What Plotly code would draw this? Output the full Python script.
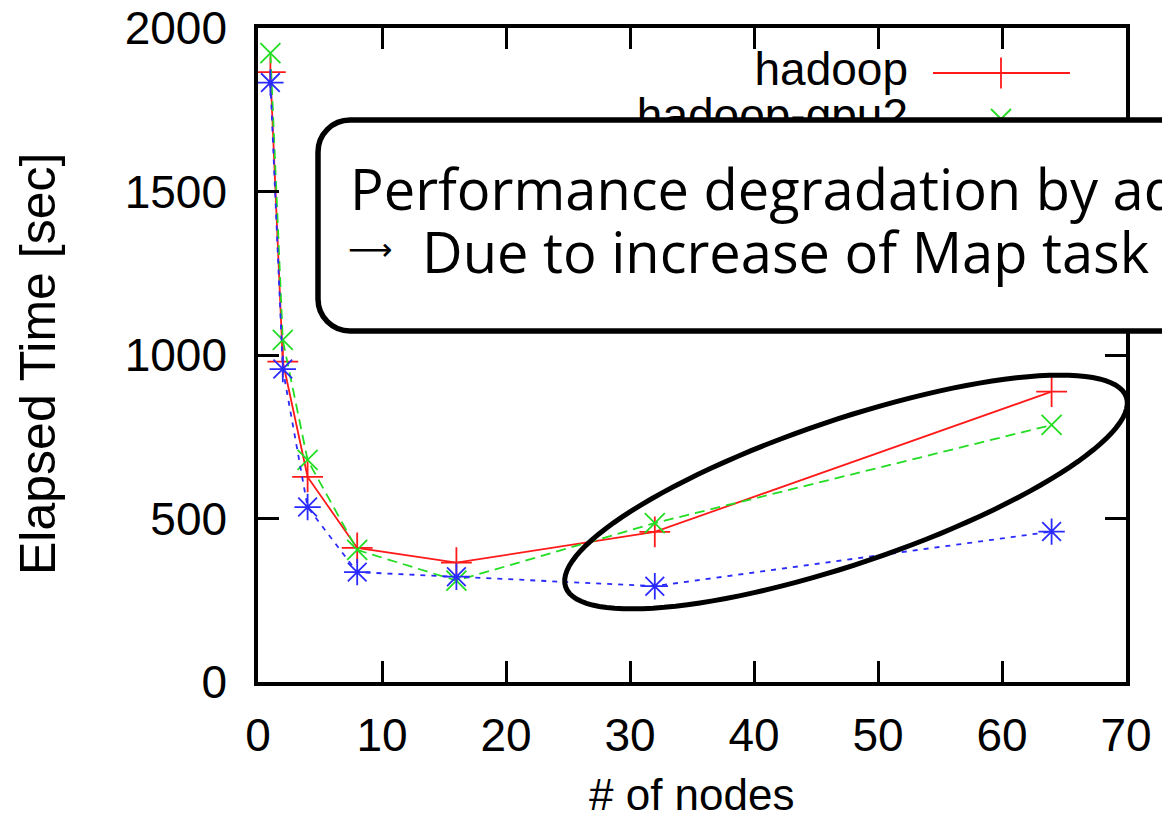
import numpy as np
import plotly.graph_objects as go

# ---------------- data ----------------
nodes = [1, 2, 4, 8, 16, 32, 64]
hadoop = [1865, 980, 627, 410, 365, 459, 888]
hadoop_gpu2 = [1923, 1046, 679, 404, 310, 486, 786]
hadoop_gpu = [1833, 957, 535, 336, 322, 293, 460]
series_names = ["hadoop", "hadoop-gpu2", "hadoop-gpu"]

x_ticks = [0, 10, 20, 30, 40, 50, 60, 70]
y_ticks = [0, 500, 1000, 1500, 2000]
x_title = "# of nodes"
y_title = "Elapsed Time [sec]"
note_line1 = "Performance degradation by ad"
note_arrow = "\u27f6"
note_line2 = "Due to increase of Map task"

# ---------------- layout geometry (pixels) ----------------
W, H = 1162, 820
L, R, T, B = 258, 1126, 28, 682  # plot area edges


def px(x):
    return (x - L) / (R - L)


def py(y):
    return (B - y) / (B - T)


RED = "#ff1a1a"
GREEN = "#22dd22"
BLUE = "#2a2aff"
GN_FONT = "Liberation Sans, Arial, sans-serif"
FS = 46

fig = go.Figure()

styles = [
    dict(color=RED, dash="solid", symbol="cross-thin", size=22),
    dict(color=GREEN, dash="10px,6px", symbol="x-thin", size=20),
    dict(color=BLUE, dash="5px,6px", symbol="asterisk", size=22),
]
for name, vals, st in zip(series_names, [hadoop, hadoop_gpu2, hadoop_gpu], styles):
    fig.add_trace(go.Scatter(
        x=nodes, y=vals, name=name, mode="lines+markers",
        line=dict(color=st["color"], width=1.8, dash=st["dash"]),
        marker=dict(symbol=st["symbol"], size=st["size"],
                    line=dict(color=st["color"], width=1.8)),
        showlegend=False,
    ))

# ---------------- hand-made key (pixel overlay axes) ----------------
legend_rows = [73, 119, 165]
key_x0, key_xm, key_x1, key_text_x = 933, 1001, 1070, 908
for name, st, ry in zip(series_names, styles, legend_rows):
    fig.add_trace(go.Scatter(
        x=[key_x0, key_x1], y=[ry, ry], mode="lines", xaxis="x2", yaxis="y2",
        line=dict(color=st["color"], width=1.8, dash=st["dash"]),
        showlegend=False, hoverinfo="skip"))
    fig.add_trace(go.Scatter(
        x=[key_xm], y=[ry], mode="markers", xaxis="x2", yaxis="y2",
        marker=dict(symbol=st["symbol"], size=st["size"],
                    line=dict(color=st["color"], width=1.8)),
        showlegend=False, hoverinfo="skip"))
    fig.add_trace(go.Scatter(
        x=[key_text_x], y=[ry], mode="text", text=[name], textposition="middle left",
        xaxis="x2", yaxis="y2", textfont=dict(family=GN_FONT, size=FS, color="black"),
        showlegend=False, hoverinfo="skip"))

# ---------------- shapes ----------------
# rounded callout box
bx0, by0, bx1, by1, rad = 318, 120, 1220, 331, 32
k = 0.5523 * rad


def P(x, y):
    return f"{px(x):.5f},{py(y):.5f}"


box_path = (
    f"M {P(bx0 + rad, by0)} L {P(bx1 - rad, by0)} "
    f"C {P(bx1 - rad + k, by0)} {P(bx1, by0 + rad - k)} {P(bx1, by0 + rad)} "
    f"L {P(bx1, by1 - rad)} "
    f"C {P(bx1, by1 - rad + k)} {P(bx1 - rad + k, by1)} {P(bx1 - rad, by1)} "
    f"L {P(bx0 + rad, by1)} "
    f"C {P(bx0 + rad - k, by1)} {P(bx0, by1 - rad + k)} {P(bx0, by1 - rad)} "
    f"L {P(bx0, by0 + rad)} "
    f"C {P(bx0, by0 + rad - k)} {P(bx0 + rad - k, by0)} {P(bx0 + rad, by0)} Z"
)
fig.add_shape(type="path", path=box_path, xref="paper", yref="paper",
              line=dict(color="black", width=5.5), fillcolor="white", layer="above")

# tilted ellipse
ecx, ecy, ea, eb, eth = 846, 492, 296, 72, np.deg2rad(18.7)
t = np.linspace(0, 2 * np.pi, 121)
ex = ecx + ea * np.cos(t) * np.cos(eth) - eb * np.sin(t) * np.sin(eth)
ey = ecy - (ea * np.cos(t) * np.sin(eth) + eb * np.sin(t) * np.cos(eth))
ell_path = "M " + " L ".join(P(a, b) for a, b in zip(ex, ey)) + " Z"
fig.add_shape(type="path", path=ell_path, xref="paper", yref="paper",
              line=dict(color="black", width=5), layer="above")

# ---------------- annotations ----------------
NOTE_FONT = dict(family="Open Sans, Noto Sans, sans-serif", size=56, color="black")
fig.add_annotation(x=px(348), y=py(188), xref="paper", yref="paper", text=note_line1,
                   showarrow=False, xanchor="left", yanchor="middle", font=NOTE_FONT)
fig.add_annotation(x=px(346), y=py(249), xref="paper", yref="paper", text=note_arrow,
                   showarrow=False, xanchor="left", yanchor="middle",
                   font=dict(family="DejaVu Sans", size=31, color="black"))
fig.add_annotation(x=px(420), y=py(251), xref="paper", yref="paper", text=note_line2,
                   showarrow=False, xanchor="left", yanchor="middle", font=NOTE_FONT)
fig.add_annotation(x=px((L + R) / 2), y=py(794), xref="paper", yref="paper", text=x_title,
                   showarrow=False, xanchor="center", yanchor="middle",
                   font=dict(family=GN_FONT, size=44, color="black"))
fig.add_annotation(x=px(38), y=py(364), xref="paper", yref="paper", text=y_title,
                   showarrow=False, xanchor="center", yanchor="middle", textangle=-90,
                   font=dict(family=GN_FONT, size=50, color="black"))

axis_common = dict(
    ticks="inside", ticklen=21, tickwidth=2.5, tickcolor="black",
    showline=True, linewidth=3.5, linecolor="black", mirror="ticks",
    showgrid=False, zeroline=False,
    tickfont=dict(family=GN_FONT, size=FS, color="black"),
)

fig.update_layout(
    width=W, height=H,
    margin=dict(l=L, r=W - R, t=T, b=H - B, autoexpand=False),
    paper_bgcolor="white", plot_bgcolor="white",
    showlegend=False,
    xaxis=dict(range=[0, 70], tickvals=x_ticks, ticktext=[str(v) for v in x_ticks],
               ticklabelstandoff=10, **axis_common),
    yaxis=dict(range=[0, 2000], tickvals=y_ticks, ticktext=[str(v) for v in y_ticks],
               ticklabelstandoff=18, **axis_common),
    xaxis2=dict(overlaying="x", range=[L, R], visible=False, fixedrange=True),
    yaxis2=dict(overlaying="y", range=[B, T], visible=False, fixedrange=True),
)

fig.write_html("out.html")
